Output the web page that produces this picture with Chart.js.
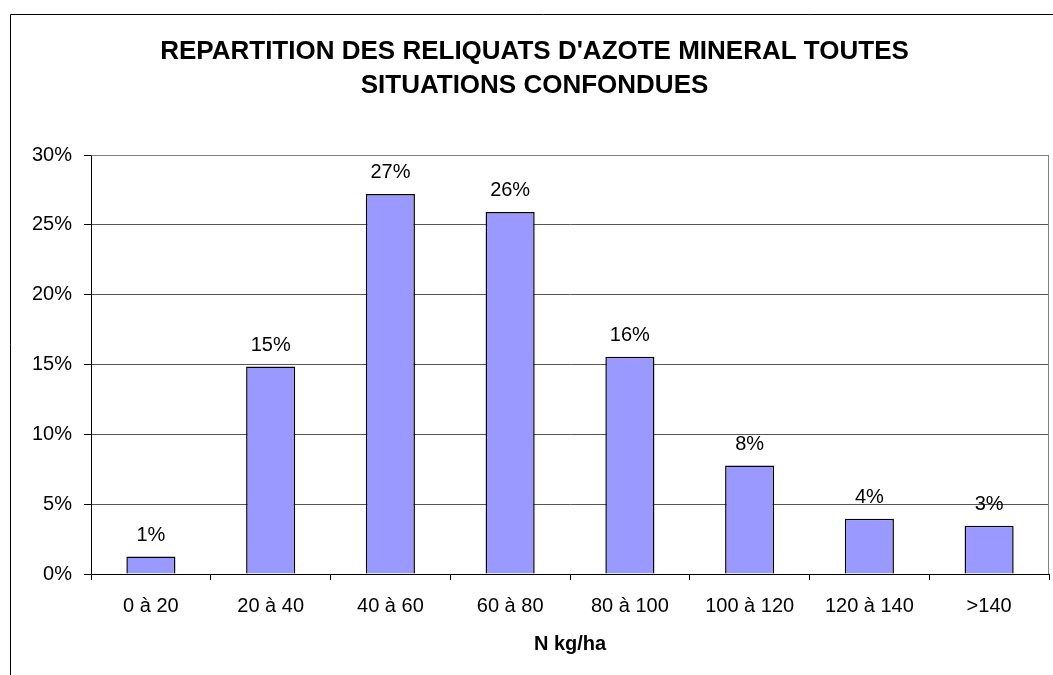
<!DOCTYPE html>
<html>
<head>
<meta charset="utf-8">
<script src="https://cdn.jsdelivr.net/npm/chart.js@4.4.1/dist/chart.umd.min.js"></script>
<style>
  html, body { margin: 0; padding: 0; background: #fff; overflow: hidden; width: 1053px; height: 675px; }
  #wrap { position: absolute; left: 0; top: 0; width: 1076px; height: 675px; }
</style>
</head>
<body>
<div id="wrap"><canvas id="c"></canvas></div>
<script>
const categories = ['0 à 20', '20 à 40', '40 à 60', '60 à 80', '80 à 100', '100 à 120', '120 à 140', '>140'];
const shares = [1.26, 14.87, 27.22, 25.93, 15.56, 7.77, 3.96, 3.46];
const yTicks = [0, 5, 10, 15, 20, 25, 30];
const titleLines = ["REPARTITION DES RELIQUATS D'AZOTE MINERAL TOUTES", 'SITUATIONS CONFONDUES'];
const xTitle = 'N kg/ha';

const FONT = "'Liberation Sans', Arial, sans-serif";

const frame = {
  id: 'frame',
  beforeDraw(chart) {
    const ctx = chart.ctx;
    ctx.save();
    ctx.fillStyle = '#fff';
    ctx.fillRect(0, 0, chart.width, chart.height);
    ctx.strokeStyle = '#000';
    ctx.lineWidth = 1;
    ctx.beginPath();
    ctx.moveTo(10.5, chart.height);
    ctx.lineTo(10.5, 14.5);
    ctx.lineTo(chart.width, 14.5);
    ctx.stroke();
    ctx.restore();
  },
  afterDatasetsDraw(chart) {
    const ctx = chart.ctx;
    const a = chart.chartArea;
    ctx.save();
    ctx.strokeStyle = '#808080';
    ctx.lineWidth = 1;
    ctx.beginPath();
    ctx.moveTo(Math.round(a.left) + 0.5, Math.round(a.top) + 0.5);
    ctx.lineTo(Math.round(a.right) - 0.5, Math.round(a.top) + 0.5);
    ctx.lineTo(Math.round(a.right) - 0.5, Math.round(a.bottom));
    ctx.stroke();
    // value labels
    ctx.fillStyle = '#000';
    ctx.font = '20px ' + FONT;
    ctx.textAlign = 'center';
    ctx.textBaseline = 'alphabetic';
    const meta = chart.getDatasetMeta(0);
    meta.data.forEach((bar, i) => {
      ctx.fillText(Math.round(shares[i]) + '%', bar.x, bar.y - 15.5);
    });
    ctx.restore();
  }
};

new Chart(document.getElementById('c'), {
  type: 'bar',
  data: {
    labels: categories,
    datasets: [{
      data: shares,
      backgroundColor: '#9999FF',
      borderColor: '#000',
      borderWidth: 1.5,
      borderSkipped: 'bottom',
      barPercentage: 0.41,
      categoryPercentage: 1.0
    }]
  },
  options: {
    responsive: true,
    maintainAspectRatio: false,
    animation: false,
    layout: { padding: { left: 20, right: 27, top: 0, bottom: 19 } },
    plugins: {
      legend: { display: false },
      tooltip: { enabled: false },
      title: {
        display: true,
        text: titleLines,
        color: '#000',
        font: { family: FONT, size: 26, weight: 'bold', lineHeight: 1.31 },
        padding: { top: 35, bottom: 52 }
      }
    },
    scales: {
      x: {
        grid: {
          offset: true,
          drawOnChartArea: false,
          drawTicks: true,
          tickLength: 6,
          tickColor: '#000'
        },
        border: { display: true, color: '#000', width: 1 },
        ticks: {
          color: '#000',
          font: { family: FONT, size: 20 },
          padding: 14,
          maxRotation: 0,
          autoSkip: false
        },
        title: {
          display: true,
          text: xTitle,
          color: '#000',
          font: { family: FONT, size: 20, weight: 'bold' },
          padding: { top: 0, bottom: 0 }
        }
      },
      y: {
        min: 0,
        max: 30,
        afterBuildTicks(scale) { scale.ticks = yTicks.map(v => ({ value: v })); },
        grid: {
          color: ctx => (ctx.tick && ctx.tick.value === 30) ? '#808080' : (ctx.tick && ctx.tick.value === 0 ? '#000' : '#555'),
          tickColor: '#000',
          tickLength: 7,
          drawTicks: true
        },
        border: { display: true, color: '#000', width: 1 },
        ticks: {
          color: '#000',
          font: { family: FONT, size: 20 },
          padding: 12,
          callback: v => v + '%'
        }
      }
    }
  },
  plugins: [frame]
});
</script>
</body>
</html>
